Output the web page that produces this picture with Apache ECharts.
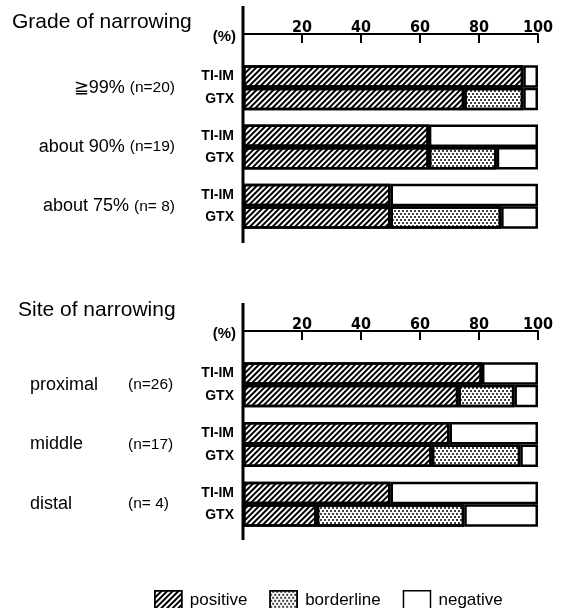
<!doctype html>
<html>
<head>
<meta charset="UTF-8">
<title>Grade / Site of narrowing</title>
<script src="https://cdn.jsdelivr.net/npm/echarts@6/dist/echarts.min.js"></script>
<style>
html,body{margin:0;padding:0;background:#fff;}
#main{width:563px;height:608px;}
</style>
</head>
<body>
<div id="main"></div>
<script>
// grade of narrowing
var gradeCats = ['≧99%', 'about 90%', 'about 75%'];
var gradeN = [20, 19, 8];
var gradeTiPos = [95, 63, 50];
var gradeTiNeg = [5, 37, 50];
var gradeGtxPos = [75, 63, 50];
var gradeGtxBord = [20, 23, 37.5];
var gradeGtxNeg = [5, 14, 12.5];
// site of narrowing
var siteCats = ['proximal', 'middle', 'distal'];
var siteN = [26, 17, 4];
var siteTiPos = [81, 70, 50];
var siteTiNeg = [19, 30, 50];
var siteGtxPos = [73, 64, 25];
var siteGtxBord = [19, 30, 50];
var siteGtxNeg = [8, 6, 25];

var hatch = {symbol: 'rect', symbolSize: 1, color: '#000', dashArrayX: [1, 0], dashArrayY: [1.6, 1.5], rotation: -Math.PI / 4};
var dots = {symbol: 'circle', symbolSize: 1, color: '#000', dashArrayX: [[1.3, 1.3], [0, 1.3, 1.3, 0]], dashArrayY: [1.3, 0.6]};

var numFont = "'Liberation Sans Narrow', 'DejaVu Sans Condensed', sans-serif";
var txtFont = 'Liberation Sans';

function nLabel(n) { return '(n=' + (n < 10 ? ' ' : '') + n + ')'; }

function bar(name, stack, data, idx, decal, tag) {
	var st = {color: '#fff', borderColor: '#000', borderWidth: 2.5};
	if (decal) st.decal = decal;
	var s = {
		name: name, type: 'bar', stack: stack, data: data,
		xAxisIndex: idx, yAxisIndex: idx,
		barWidth: 22.5, barGap: '0%',
		itemStyle: st,
		emphasis: {disabled: true}
	};
	if (tag) {
		s.label = {show: true, position: 'left', distance: 9, formatter: tag,
			color: '#000', fontSize: 14, fontWeight: 'bold', fontFamily: txtFont};
	}
	return s;
}

function xAx(idx) {
	return {
		type: 'value', gridIndex: idx, position: 'top', offset: 24,
		min: 0, max: 100, interval: 20,
		name: '(%)', nameLocation: 'start', nameGap: 7,
		nameTextStyle: {color: '#000', fontSize: 15, fontWeight: 'bold', fontFamily: txtFont, verticalAlign: 'top', lineHeight: 5},
		axisLine: {show: true, lineStyle: {color: '#000', width: 2}},
		axisTick: {show: true, inside: true, length: 9, lineStyle: {color: '#000', width: 2}},
		axisLabel: {showMinLabel: false, margin: -2, color: '#000', fontSize: 16, fontWeight: 'bold', fontFamily: numFont},
		splitLine: {show: false}
	};
}

var myChart = echarts.init(document.getElementById('main'));
var option = {
	animation: false,
	backgroundColor: '#fff',
	title: [
		{text: 'Grade of narrowing', left: 7, top: 7, textStyle: {fontSize: 21, fontWeight: 'normal', color: '#000', fontFamily: txtFont}},
		{text: 'Site of narrowing', left: 13, top: 295, textStyle: {fontSize: 21, fontWeight: 'normal', color: '#000', fontFamily: txtFont}}
	],
	legend: {
		left: 149, top: 585, itemWidth: 27, itemHeight: 20, itemGap: 22, icon: 'rect',
		data: ['positive', 'borderline', 'negative'],
		itemStyle: {borderColor: '#000', borderWidth: 1.5},
		textStyle: {color: '#000', fontSize: 17, fontFamily: txtFont, padding: [0, 0, 0, 3]}
	},
	grid: [
		{left: 243, right: 25, top: 58, height: 178},
		{left: 243, right: 25, top: 355, height: 179}
	],
	xAxis: [xAx(0), xAx(1)],
	yAxis: [
		{
			type: 'category', gridIndex: 0, inverse: true, data: gradeCats,
			axisLine: {show: false}, axisTick: {show: false},
			axisLabel: {
				align: 'right', margin: 68,
				formatter: function (v, i) { return '{a|' + v + '}{b|' + nLabel(gradeN[i]) + '}'; },
				rich: {
					a: {fontSize: 18, color: '#000', fontFamily: txtFont},
					b: {fontSize: 15.5, color: '#000', fontFamily: txtFont, padding: [0, 0, 0, 5]}
				}
			}
		},
		{
			type: 'category', gridIndex: 1, inverse: true, data: siteCats,
			axisLine: {show: false}, axisTick: {show: false},
			axisLabel: {
				align: 'left', margin: 213,
				formatter: function (v, i) { return '{a|' + v + '}{b|' + nLabel(siteN[i]) + '}'; },
				rich: {
					a: {fontSize: 18, color: '#000', fontFamily: txtFont, width: 98},
					b: {fontSize: 15.5, color: '#000', fontFamily: txtFont}
				}
			}
		}
	],
	graphic: [
		{type: 'line', shape: {x1: 243, y1: 6, x2: 243, y2: 243}, style: {stroke: '#000', lineWidth: 3}},
		{type: 'line', shape: {x1: 243, y1: 303, x2: 243, y2: 540}, style: {stroke: '#000', lineWidth: 3}}
	],
	series: [
		bar('positive', 'ti0', gradeTiPos, 0, hatch, 'TI-IM'),
		bar('negative', 'ti0', gradeTiNeg, 0, null),
		bar('positive', 'gtx0', gradeGtxPos, 0, hatch, 'GTX'),
		bar('borderline', 'gtx0', gradeGtxBord, 0, dots),
		bar('negative', 'gtx0', gradeGtxNeg, 0, null),
		bar('positive', 'ti1', siteTiPos, 1, hatch, 'TI-IM'),
		bar('negative', 'ti1', siteTiNeg, 1, null),
		bar('positive', 'gtx1', siteGtxPos, 1, hatch, 'GTX'),
		bar('borderline', 'gtx1', siteGtxBord, 1, dots),
		bar('negative', 'gtx1', siteGtxNeg, 1, null)
	]
};
myChart.setOption(option);
</script>
</body>
</html>
